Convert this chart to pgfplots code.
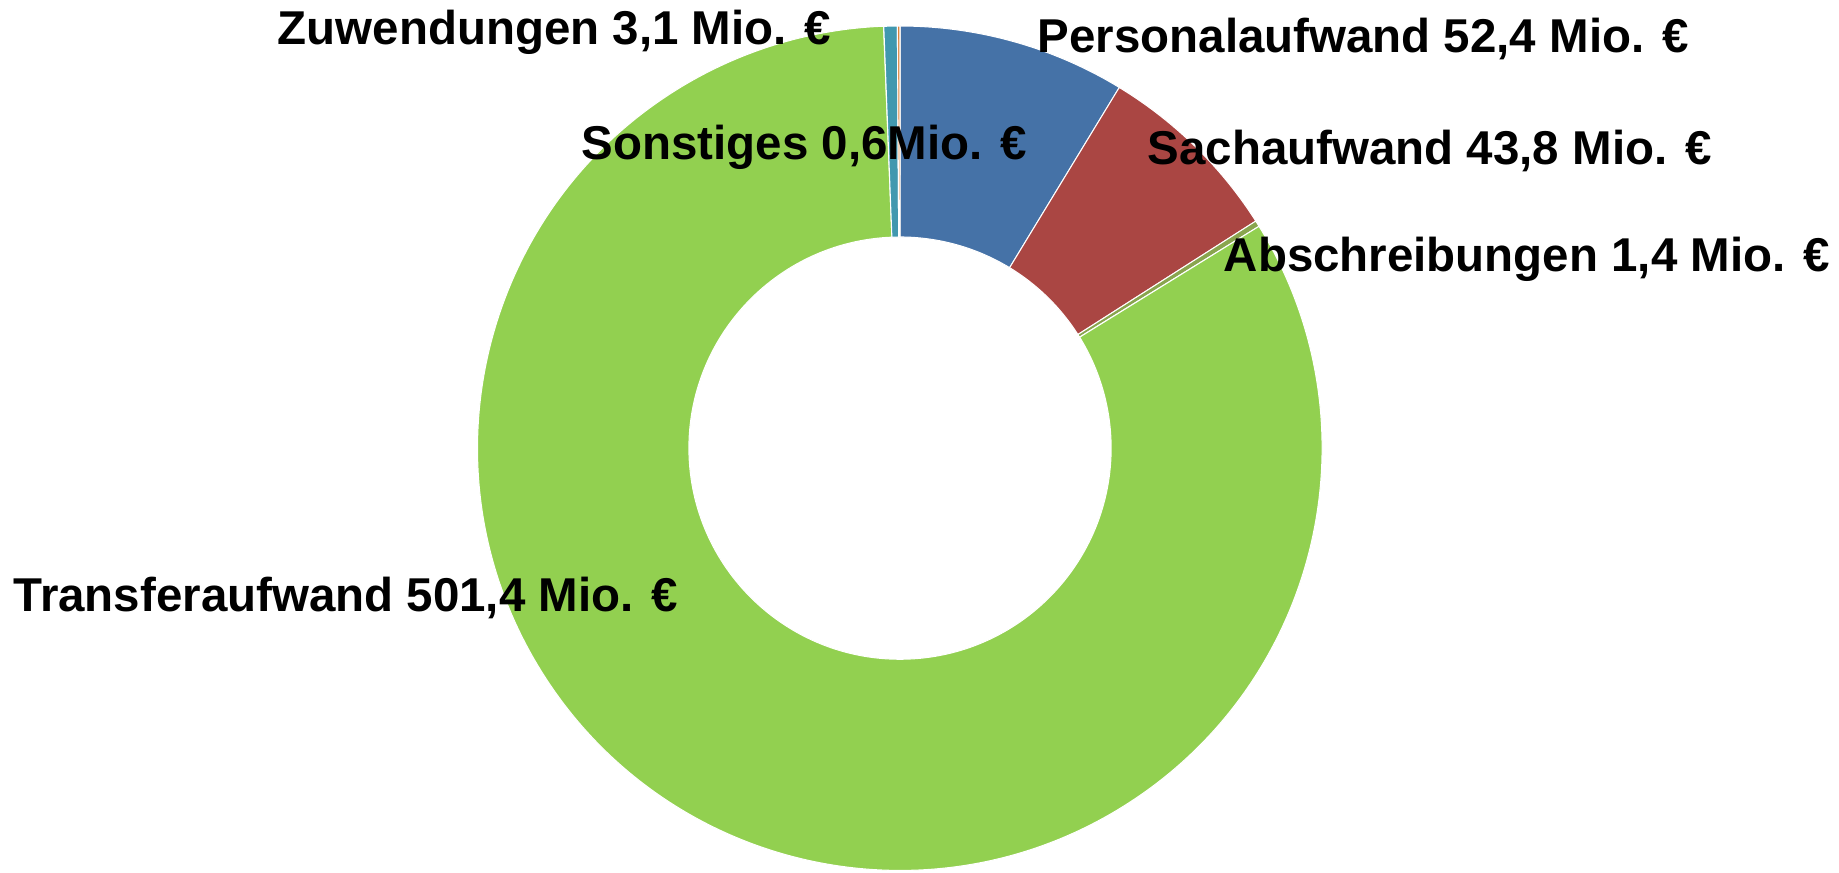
\documentclass[border=0pt]{standalone}
\usepackage{pgfplots}
\pgfplotsset{compat=1.18}
\usepackage{pgfplotstable}
\usepackage{fontspec}
\setmainfont{Liberation Sans}

\definecolor{cPers}{HTML}{4572A7}
\definecolor{cSach}{HTML}{AA4643}
\definecolor{cAbs}{HTML}{89A54E}
\definecolor{cTrans}{HTML}{92D050}
\definecolor{cZuw}{HTML}{4198AF}
\definecolor{cSonst}{HTML}{DB843D}

% Aufwand in Mio. EUR, clockwise from 12 o'clock
\pgfplotstableread{
name value
Personalaufwand 52.4
Sachaufwand 43.8
Abschreibungen 1.4
Transferaufwand 501.4
Zuwendungen 3.1
Sonstiges 0.6
}\costs

\newcommand\labelfont{\bfseries\fontsize{13.5}{16}\selectfont}

% donut geometry (axis units = 0.01cm)
\def\cx{900}\def\cy{424}\def\Ro{422}\def\Ri{211}
\newcommand\slice[3]{%
  \fill[#3, draw=white, line width=0.3pt]
    (axis cs:{\cx+\Ro*cos(90-#1)},{\cy+\Ro*sin(90-#1)})
    arc[start angle={90-#1}, end angle={90-#2}, radius=4.22cm]
    -- (axis cs:{\cx+\Ri*cos(90-#2)},{\cy+\Ri*sin(90-#2)})
    arc[start angle={90-#2}, end angle={90-#1}, radius=2.11cm]
    -- cycle;}

\begin{document}
\begin{tikzpicture}
% cumulative angles from the table
\def\total{0}
\pgfplotsforeachungrouped \i in {0,...,5}{%
  \pgfplotstablegetelem{\i}{value}\of\costs
  \pgfmathsetmacro\total{\total+\pgfplotsretval}%
  \xdef\total{\total}%
}
\def\cum{0}
\pgfplotsforeachungrouped \i in {0,...,5}{%
  \pgfplotstablegetelem{\i}{value}\of\costs
  \pgfmathsetmacro\cum{\cum+\pgfplotsretval}%
  \xdef\cum{\cum}%
  \pgfmathsetmacro\tmpang{360*(\cum/\total)}%
  \expandafter\xdef\csname angE\i\endcsname{\tmpang}%
}
\begin{axis}[
  name=ax,
  x=0.01cm, y=0.01cm,
  xmin=0, xmax=1839, ymin=0, ymax=872,
  hide axis, clip=false, scale only axis,
  xtick=\empty, ytick=\empty,
]
\slice{0}{\csname angE0\endcsname}{cPers}
\slice{\csname angE0\endcsname}{\csname angE1\endcsname}{cSach}
\slice{\csname angE1\endcsname}{\csname angE2\endcsname}{cAbs}
\slice{\csname angE2\endcsname}{\csname angE3\endcsname}{cTrans}
\slice{\csname angE3\endcsname}{\csname angE4\endcsname}{cZuw}
\slice{\csname angE4\endcsname}{360}{cSonst}

\node[anchor=base west, inner sep=0pt, font=\labelfont] at (axis cs:1037,819) {Personalaufwand 52,4 Mio. €};
\node[anchor=base west, inner sep=0pt, font=\labelfont] at (axis cs:277,827) {Zuwendungen 3,1 Mio. €};
\node[anchor=base west, inner sep=0pt, font=\labelfont] at (axis cs:581,713) {Sonstiges 0,6Mio. €};
\node[anchor=base west, inner sep=0pt, font=\labelfont] at (axis cs:1147,708) {Sachaufwand 43,8 Mio. €};
\node[anchor=base west, inner sep=0pt, font=\labelfont] at (axis cs:1223,601) {Abschreibungen 1,4 Mio. €};
\node[anchor=base west, inner sep=0pt, font=\labelfont] at (axis cs:13,261) {Transferaufwand 501,4 Mio. €};
\end{axis}
\pgfresetboundingbox
\path (ax.south west) rectangle (ax.north east);
\end{tikzpicture}
\end{document}
